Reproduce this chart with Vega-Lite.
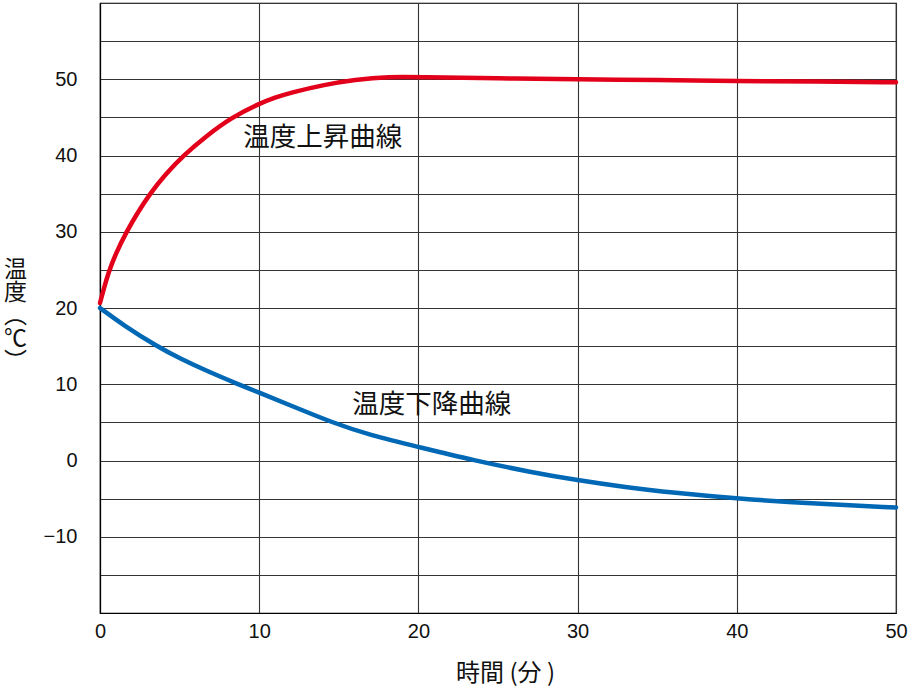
{
  "$schema": "https://vega.github.io/schema/vega-lite/v6.json",
  "autosize": "none",
  "width": 796,
  "height": 610,
  "padding": {"left": 100, "top": 3, "right": 13, "bottom": 87},
  "background": "white",
  "config": {
    "view": {"stroke": "#000", "strokeWidth": 1.2},
    "axis": {"labelFont": "Liberation Sans", "labelFontSize": 20, "labelColor": "#111", "titleFont": "Noto Sans CJK JP", "titleFontWeight": "normal", "titleColor": "#111", "gridColor": "#333", "gridWidth": 1.1, "gridOpacity": 1, "domainColor": "#000", "domainWidth": 1.2, "ticks": false, "labelFlush": false}
  },
  "datasets": {
    "curves": [
      {"series": "up", "t": 0, "temp": 20.66},
      {"series": "up", "t": 0.25, "temp": 22.6},
      {"series": "up", "t": 0.52, "temp": 24.6},
      {"series": "up", "t": 1.0, "temp": 27.2},
      {"series": "up", "t": 1.67, "temp": 30.0},
      {"series": "up", "t": 2.3, "temp": 32.3},
      {"series": "up", "t": 3.14, "temp": 35.0},
      {"series": "up", "t": 4.1, "temp": 37.5},
      {"series": "up", "t": 5.23, "temp": 40.0},
      {"series": "up", "t": 6.7, "temp": 42.6},
      {"series": "up", "t": 8.27, "temp": 45.0},
      {"series": "up", "t": 10, "temp": 46.8},
      {"series": "up", "t": 11, "temp": 47.6},
      {"series": "up", "t": 12, "temp": 48.25},
      {"series": "up", "t": 14, "temp": 49.25},
      {"series": "up", "t": 16, "temp": 49.95},
      {"series": "up", "t": 18.2, "temp": 50.35},
      {"series": "up", "t": 20, "temp": 50.28},
      {"series": "up", "t": 25, "temp": 50.12},
      {"series": "up", "t": 30, "temp": 50.0},
      {"series": "up", "t": 35, "temp": 49.9},
      {"series": "up", "t": 40, "temp": 49.78},
      {"series": "up", "t": 45, "temp": 49.69},
      {"series": "up", "t": 50, "temp": 49.6},
      {"series": "down", "t": 0, "temp": 20.0},
      {"series": "down", "t": 1.5, "temp": 17.7},
      {"series": "down", "t": 3.56, "temp": 15.0},
      {"series": "down", "t": 5, "temp": 13.4},
      {"series": "down", "t": 6.8, "temp": 11.65},
      {"series": "down", "t": 8.69, "temp": 10.0},
      {"series": "down", "t": 10, "temp": 8.89},
      {"series": "down", "t": 12, "temp": 7.2},
      {"series": "down", "t": 14.55, "temp": 5.0},
      {"series": "down", "t": 17, "temp": 3.3},
      {"series": "down", "t": 20, "temp": 1.78},
      {"series": "down", "t": 23.5, "temp": 0.0},
      {"series": "down", "t": 27, "temp": -1.5},
      {"series": "down", "t": 30, "temp": -2.6},
      {"series": "down", "t": 33, "temp": -3.5},
      {"series": "down", "t": 36, "temp": -4.22},
      {"series": "down", "t": 40, "temp": -5.0},
      {"series": "down", "t": 45, "temp": -5.68},
      {"series": "down", "t": 50, "temp": -6.17}
    ],
    "labels": [
      {"t": 9.0, "temp": 42.3, "text": "温度上昇曲線"},
      {"t": 15.85, "temp": 7.33, "text": "温度下降曲線"}
    ]
  },
  "encoding": {
    "x": {"field": "t", "type": "quantitative", "scale": {"domain": [0, 50], "nice": false},
      "axis": {"values": [0, 10, 20, 30, 40, 50], "grid": true, "labelPadding": 8, "title": "時間 (分 )", "titleFontSize": 24, "titlePadding": 20, "titleX": 405, "titleAlign": "center"}},
    "y": {"field": "temp", "type": "quantitative", "scale": {"domain": [-20, 60], "nice": false},
      "axis": {"values": [-20, -15, -10, -5, 0, 5, 10, 15, 20, 25, 30, 35, 40, 45, 50, 55, 60], "grid": true, "labelPadding": 23,
        "labelExpr": "datum.value % 10 === 0 && datum.value > -20 && datum.value < 60 ? format(datum.value, 'd') : ''",
        "title": ["温", "度", "︵", "℃", "︶"], "titleAngle": 0, "titleFontSize": 23, "titleLineHeight": 23, "titleAlign": "center", "titleBaseline": "top", "titleX": -85, "titleY": 255}}
  },
  "layer": [
    {
      "data": {"name": "curves"},
      "mark": {"type": "line", "interpolate": "basis", "strokeWidth": 4.5, "strokeCap": "round"},
      "encoding": {
        "color": {"field": "series", "type": "nominal", "scale": {"domain": ["up", "down"], "range": ["#E2001A", "#0068B4"]}, "legend": null}
      }
    },
    {
      "data": {"name": "labels"},
      "mark": {"type": "text", "align": "left", "baseline": "middle", "font": "Noto Sans CJK JP", "fontSize": 26.5, "color": "#111"},
      "encoding": {"text": {"field": "text"}}
    }
  ]
}
